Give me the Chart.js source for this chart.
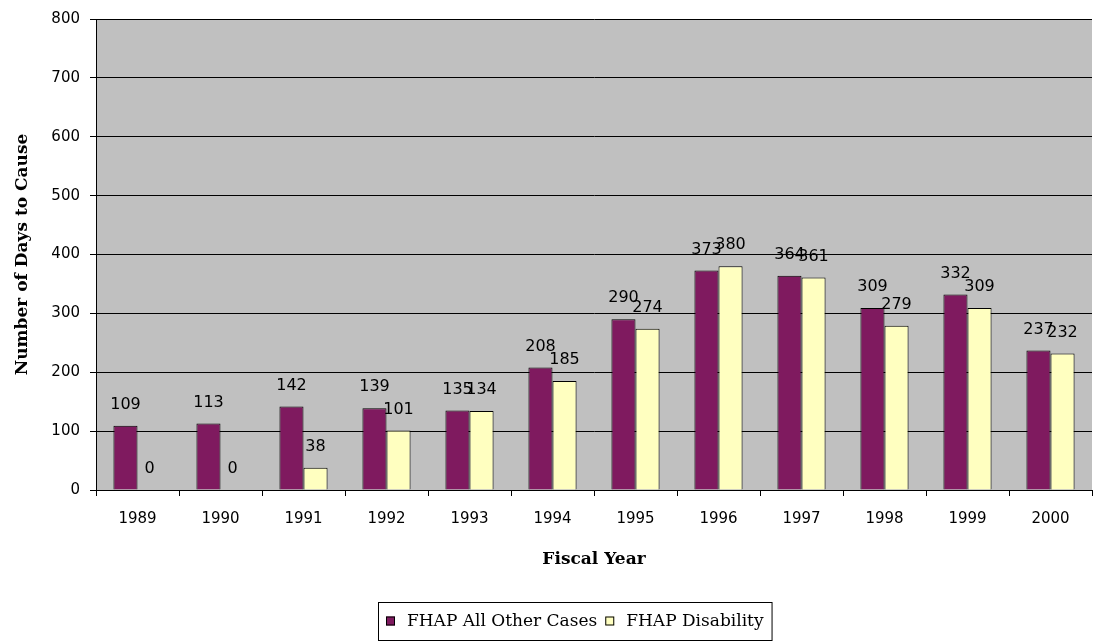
<!DOCTYPE html>
<html>
<head>
<meta charset="utf-8">
<script src="https://cdn.jsdelivr.net/npm/chart.js@4/dist/chart.umd.min.js"></script>
<style>
  html, body { margin: 0; padding: 0; background: #fff; }
  #wrap { width: 1094px; height: 642px; position: relative; }
</style>
</head>
<body>
<div id="wrap"><canvas id="chartDias"></canvas></div>
<script>
const years = ["1989","1990","1991","1992","1993","1994","1995","1996","1997","1998","1999","2000"];
const otherCases = [109, 113, 142, 139, 135, 208, 290, 373, 364, 309, 332, 237];
const disability = [0, 0, 38, 101, 134, 185, 274, 380, 361, 279, 309, 232];
const yTicks = [0, 100, 200, 300, 400, 500, 600, 700, 800];

const seriesNames = ["FHAP All Other Cases", "FHAP Disability"];
const seriesColors = ["#7f1a5f", "#ffffc0"];

// fondo gris del área de trazado
const plotBg = {
  id: "plotBg",
  beforeDraw(chart) {
    const a = chart.chartArea, ctx = chart.ctx;
    ctx.save();
    ctx.fillStyle = "#c0c0c0";
    ctx.fillRect(a.left, a.top, a.right - a.left, a.bottom - a.top);
    ctx.restore();
  }
};

// etiquetas de valor encima de cada barra
const valueLabels = {
  id: "valueLabels",
  afterDatasetsDraw(chart) {
    const ctx = chart.ctx;
    ctx.save();
    ctx.font = "16px 'DejaVu Sans', sans-serif";
    ctx.fillStyle = "#000";
    ctx.textAlign = "center";
    ctx.textBaseline = "middle";
    chart.data.datasets.forEach((ds, i) => {
      chart.getDatasetMeta(i).data.forEach((bar, j) => {
        ctx.fillText(String(ds.data[j]), bar.x, bar.y - 21);
      });
    });
    ctx.restore();
  }
};

// leyenda con recuadro, como en el original
const boxedLegend = {
  id: "boxedLegend",
  afterDraw(chart) {
    const ctx = chart.ctx;
    ctx.save();
    ctx.font = "17px 'DejaVu Serif', serif";
    ctx.textBaseline = "middle";
    const sq = 9, gap = 12, itemGap = 8, padX = 8;
    const widths = seriesNames.map(n => sq + gap + ctx.measureText(n).width);
    const total = widths.reduce((a, b) => a + b, 0) + itemGap * (widths.length - 1) + padX * 2;
    const cx = 575, cy = 621;
    const left = Math.round(cx - total / 2), top = 602, h = 38;
    ctx.strokeStyle = "#000";
    ctx.lineWidth = 1;
    ctx.strokeRect(left + 0.5, top + 0.5, total, h);
    let x = left + padX;
    seriesNames.forEach((n, i) => {
      ctx.fillStyle = seriesColors[i];
      ctx.fillRect(x, cy - sq / 2, sq, sq);
      ctx.strokeRect(x + 0.5, cy - sq / 2 + 0.5, sq - 1, sq - 1);
      ctx.fillStyle = "#000";
      ctx.fillText(n, x + sq + gap, cy + 1);
      x += widths[i] + itemGap;
    });
    ctx.restore();
  }
};

const tickFontX = { family: "'DejaVu Sans', sans-serif", size: 15 };
const tickFontY = { family: "'DejaVu Sans', sans-serif", size: 15 };
const titleFont = { family: "'DejaVu Serif', serif", size: 17, weight: "bold" };

new Chart(document.getElementById("chartDias"), {
  type: "bar",
  data: {
    labels: years,
    datasets: [
      { label: seriesNames[0], data: otherCases, backgroundColor: seriesColors[0], borderColor: "#000", borderWidth: 1 },
      { label: seriesNames[1], data: disability, backgroundColor: seriesColors[1], borderColor: "#000", borderWidth: 1 }
    ]
  },
  options: {
    responsive: true,
    maintainAspectRatio: false,
    animation: false,
    layout: { padding: { top: 14, right: 2, bottom: 0, left: 0 } },
    datasets: { bar: { categoryPercentage: 0.58, barPercentage: 1.0 } },
    plugins: { legend: { display: false }, tooltip: { enabled: false } },
    scales: {
      x: {
        grid: { display: true, drawOnChartArea: false, offset: true, color: "#000", tickLength: 6 },
        border: { color: "#000" },
        ticks: { font: tickFontX, color: "#000", padding: 14, maxRotation: 0 },
        title: { display: true, text: "Fiscal Year", font: titleFont, color: "#000", padding: { top: 4, bottom: 72 } },
        afterFit(scale) { scale.height = 152; }
      },
      y: {
        min: 0,
        max: 800,
        afterBuildTicks(scale) { scale.ticks = yTicks.map(v => ({ value: v })); },
        grid: { color: "#000", tickLength: 6 },
        border: { color: "#000" },
        ticks: { font: tickFontY, color: "#000", padding: 10 },
        title: { display: true, text: "Number of Days to Cause", font: titleFont, color: "#000", padding: { top: 12, bottom: 0 } },
        afterFit(scale) { scale.width = 96; }
      }
    }
  },
  plugins: [plotBg, valueLabels, boxedLegend]
});
</script>
</body>
</html>
